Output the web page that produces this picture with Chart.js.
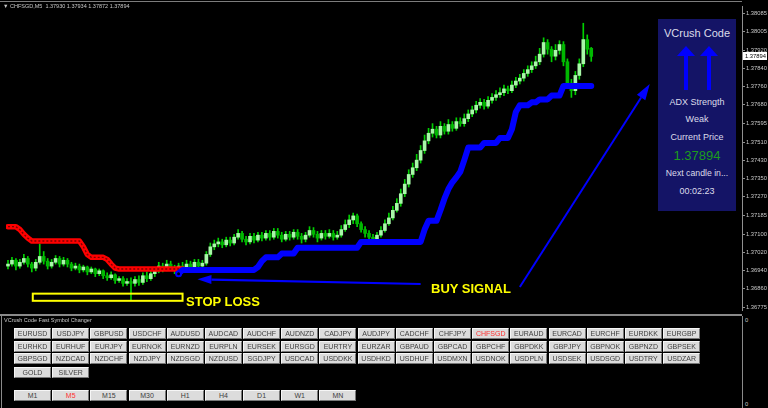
<!DOCTYPE html>
<html><head><meta charset="utf-8">
<script src="https://cdn.jsdelivr.net/npm/chart.js@4.4.1/dist/chart.umd.min.js"></script>
<style>
html,body{margin:0;padding:0;background:#000;}
#root{position:relative;width:768px;height:408px;overflow:hidden;background:#000;font-family:"Liberation Sans",Arial,sans-serif;}
#main{position:absolute;left:0;top:0;width:768px;height:316px;}
.abs{position:absolute;white-space:nowrap;}
.btn{position:absolute;box-sizing:border-box;width:37px;height:11px;background:#dcdcdc;border-top:1px solid #f6f6f6;border-left:1px solid #f6f6f6;border-right:1px solid #777;border-bottom:1px solid #777;font-size:7px;line-height:9px;text-align:center;color:#404040;}
.ptxt{position:absolute;left:0;width:78px;text-align:center;color:#dcdcea;white-space:nowrap;}
</style></head>
<body><div id="root">
<canvas id="main" width="768" height="316"></canvas>
<div class="abs" style="left:0;top:1px;width:742px;height:1px;background:#7c7c7c;"></div>
<div class="abs" style="left:3px;top:3px;font-size:5.5px;line-height:6px;color:#c8c8c8;">&#9660; CHFSGD,M5&nbsp; 1.37930 1.37934 1.37872 1.37894</div>
<div class="abs" id="stopLabel" style="left:186px;top:295px;font-size:13px;line-height:13px;font-weight:bold;color:#ffff00;">STOP LOSS</div>
<div class="abs" id="buyLabel" style="left:431px;top:282px;font-size:13px;line-height:13px;font-weight:bold;color:#ffff00;">BUY SIGNAL</div>
<div class="abs" id="panel" style="left:658px;top:19px;width:78px;height:192px;background:#141466;">
  <div class="ptxt" style="top:8px;font-size:11px;line-height:12px;">VCrush Code</div>
  <svg class="abs" style="left:0;top:0;" width="78" height="192">
    <polygon fill="#0000ff" points="28,27 37,37 30,37 30,71 26,71 26,37 19,37"/>
    <polygon fill="#0000ff" points="51,27 60,37 53,37 53,71 49,71 49,37 42,37"/>
  </svg>
  <div class="ptxt" style="top:78px;font-size:9px;line-height:10px;">ADX Strength</div>
  <div class="ptxt" style="top:95px;font-size:9px;line-height:10px;">Weak</div>
  <div class="ptxt" style="top:113px;font-size:9px;line-height:10px;">Current Price</div>
  <div class="ptxt" id="panelPrice" style="top:130px;font-size:13px;line-height:14px;color:#1c9c1c;"></div>
  <div class="ptxt" style="top:149px;font-size:8.7px;line-height:10px;">Next candle in...</div>
  <div class="ptxt" style="top:167px;font-size:9px;line-height:10px;">00:02:23</div>
</div>
<div class="abs" style="left:0;top:314px;width:742px;height:2px;background:#8a8a8a;"></div>
<div class="abs" style="left:1px;top:316px;width:1px;height:92px;background:#8a8a8a;"></div>
<div class="abs" style="left:742px;top:316px;width:1px;height:92px;background:#8a8a8a;"></div>
<div class="abs" style="left:745px;top:317px;font-size:5.8px;line-height:6px;color:#c8c8c8;">0</div>
<div class="abs" style="left:745px;top:401px;font-size:5.8px;line-height:6px;color:#c8c8c8;">0</div>
<div class="abs" style="left:4px;top:317px;font-size:5.5px;line-height:6px;color:#c8c8c8;">VCrush Code Fast Symbol Changer</div>
<div id="buttons"></div>
</div>
<script>
// ---- candle data (CHFSGD, M5) ----
const opens = [1.36958,1.36967,1.36984,1.36958,1.36975,1.36992,1.36967,1.36949,1.36975,1.37001,
1.36980,1.36958,1.36975,1.36992,1.36967,1.36984,1.36967,1.36949,1.36958,1.36941,
1.36954,1.36932,1.36945,1.36924,1.36937,1.36915,1.36906,1.36919,1.36894,1.36902,
1.36881,1.36889,1.36881,1.36898,1.36885,1.36915,1.36902,1.36924,1.36937,1.36958,
1.36945,1.36967,1.36949,1.36937,1.36958,1.36945,1.36967,1.36954,1.36975,1.36958,
1.36971,1.37010,1.37044,1.37057,1.37066,1.37053,1.37074,1.37061,1.37087,1.37104,
1.37078,1.37066,1.37091,1.37074,1.37096,1.37083,1.37104,1.37087,1.37113,1.37096,
1.37078,1.37100,1.37087,1.37109,1.37091,1.37078,1.37096,1.37117,1.37100,1.37083,
1.37104,1.37091,1.37104,1.37087,1.37096,1.37121,1.37143,1.37164,1.37182,1.37147,
1.37121,1.37104,1.37087,1.37074,1.37096,1.37117,1.37147,1.37173,1.37207,1.37238,
1.37281,1.37324,1.37367,1.37397,1.37431,1.37474,1.37517,1.37551,1.37569,1.37543,
1.37582,1.37560,1.37590,1.37573,1.37603,1.37594,1.37616,1.37637,1.37655,1.37676,
1.37689,1.37672,1.37698,1.37711,1.37723,1.37732,1.37749,1.37741,1.37766,1.37784,
1.37797,1.37818,1.37835,1.37852,1.37870,1.37904,1.37956,1.37926,1.37895,1.37921,
1.37947,1.37870,1.37775,1.37741,1.37809,1.37861,1.37969,1.37930];
const highs = [1.36984,1.36997,1.36992,1.36988,1.37010,1.37001,1.36975,1.36988,1.37057,1.37023,
1.36992,1.36988,1.37005,1.37001,1.36997,1.36992,1.36975,1.36971,1.36967,1.36962,
1.36958,1.36954,1.36949,1.36945,1.36941,1.36928,1.36932,1.36924,1.36911,1.36911,
1.36902,1.36906,1.36911,1.36915,1.36928,1.36932,1.36941,1.36949,1.36975,1.36971,
1.36984,1.36980,1.36962,1.36971,1.36975,1.36984,1.36980,1.36988,1.36988,1.36984,
1.37023,1.37061,1.37074,1.37083,1.37078,1.37087,1.37087,1.37100,1.37121,1.37113,
1.37091,1.37104,1.37104,1.37109,1.37109,1.37117,1.37117,1.37126,1.37126,1.37109,
1.37113,1.37113,1.37121,1.37121,1.37104,1.37109,1.37134,1.37130,1.37113,1.37117,
1.37117,1.37121,1.37117,1.37113,1.37139,1.37164,1.37186,1.37195,1.37190,1.37156,
1.37134,1.37117,1.37100,1.37109,1.37134,1.37164,1.37195,1.37225,1.37259,1.37302,
1.37345,1.37388,1.37418,1.37457,1.37496,1.37543,1.37573,1.37594,1.37582,1.37603,
1.37594,1.37612,1.37603,1.37620,1.37620,1.37637,1.37655,1.37672,1.37693,1.37706,
1.37702,1.37715,1.37728,1.37741,1.37754,1.37766,1.37762,1.37784,1.37801,1.37814,
1.37835,1.37852,1.37870,1.37895,1.37930,1.37977,1.37969,1.37938,1.37947,1.37964,
1.37960,1.37883,1.37792,1.37827,1.37883,1.38042,1.37990,1.37934];
const lows = [1.36945,1.36958,1.36941,1.36949,1.36967,1.36954,1.36932,1.36937,1.36967,1.36967,
1.36945,1.36949,1.36967,1.36954,1.36958,1.36954,1.36937,1.36941,1.36928,1.36932,
1.36919,1.36924,1.36911,1.36915,1.36902,1.36894,1.36898,1.36881,1.36885,1.36868,
1.36872,1.36808,1.36868,1.36872,1.36876,1.36889,1.36894,1.36911,1.36928,1.36932,
1.36937,1.36941,1.36924,1.36928,1.36932,1.36937,1.36941,1.36945,1.36949,1.36949,
1.36962,1.37001,1.37031,1.37044,1.37040,1.37044,1.37048,1.37053,1.37078,1.37066,
1.37053,1.37057,1.37061,1.37066,1.37070,1.37074,1.37074,1.37078,1.37083,1.37066,
1.37070,1.37074,1.37078,1.37078,1.37061,1.37066,1.37087,1.37087,1.37066,1.37074,
1.37078,1.37083,1.37074,1.37078,1.37087,1.37113,1.37130,1.37147,1.37134,1.37109,
1.37087,1.37070,1.37057,1.37061,1.37087,1.37109,1.37139,1.37164,1.37199,1.37225,
1.37268,1.37311,1.37354,1.37384,1.37418,1.37461,1.37504,1.37534,1.37530,1.37530,
1.37547,1.37547,1.37560,1.37564,1.37582,1.37582,1.37603,1.37625,1.37642,1.37663,
1.37659,1.37663,1.37685,1.37698,1.37711,1.37719,1.37728,1.37732,1.37754,1.37771,
1.37784,1.37805,1.37822,1.37840,1.37857,1.37891,1.37904,1.37870,1.37878,1.37904,
1.37852,1.37758,1.37711,1.37723,1.37792,1.37848,1.37904,1.37872];
const closes = [1.36967,1.36984,1.36958,1.36975,1.36992,1.36967,1.36949,1.36975,1.37001,1.36980,
1.36958,1.36975,1.36992,1.36967,1.36984,1.36967,1.36949,1.36958,1.36941,1.36954,
1.36932,1.36945,1.36924,1.36937,1.36915,1.36906,1.36919,1.36894,1.36902,1.36881,
1.36889,1.36881,1.36898,1.36885,1.36915,1.36902,1.36924,1.36937,1.36958,1.36945,
1.36967,1.36949,1.36937,1.36958,1.36945,1.36967,1.36954,1.36975,1.36958,1.36971,
1.37010,1.37044,1.37057,1.37066,1.37053,1.37074,1.37061,1.37087,1.37104,1.37078,
1.37066,1.37091,1.37074,1.37096,1.37083,1.37104,1.37087,1.37113,1.37096,1.37078,
1.37100,1.37087,1.37109,1.37091,1.37078,1.37096,1.37117,1.37100,1.37083,1.37104,
1.37091,1.37104,1.37087,1.37096,1.37121,1.37143,1.37164,1.37182,1.37147,1.37121,
1.37104,1.37087,1.37074,1.37096,1.37117,1.37147,1.37173,1.37207,1.37238,1.37281,
1.37324,1.37367,1.37397,1.37431,1.37474,1.37517,1.37551,1.37569,1.37543,1.37582,
1.37560,1.37590,1.37573,1.37603,1.37594,1.37616,1.37637,1.37655,1.37676,1.37689,
1.37672,1.37698,1.37711,1.37723,1.37732,1.37749,1.37741,1.37766,1.37784,1.37797,
1.37818,1.37835,1.37852,1.37870,1.37904,1.37956,1.37926,1.37895,1.37921,1.37947,
1.37870,1.37775,1.37741,1.37809,1.37861,1.37969,1.37926,1.37894];

// ---- trend line (red = down trend from bar 0, blue = up trend from bar 43) ----
const trendDown = [1.37134,1.37134,1.37134,1.37121,1.37100,1.37083,
1.37070,1.37070,1.37070,1.37070,1.37070,1.37070,1.37070,1.37070,1.37070,1.37070,1.37070,1.37070,1.37070,
1.37044,1.37010,1.36997,1.36997,1.36997,1.36997,1.36988,1.36967,1.36949,
1.36945,1.36945,1.36945,1.36945,1.36945,1.36945,1.36945,1.36945,1.36945,1.36945,1.36945,1.36945,1.36945,1.36945,1.36945,1.36945,1.36945];
const trendUpStart = 43;
const trendUp = [1.36924,
1.36941,1.36941,1.36941,1.36941,1.36941,1.36941,1.36941,1.36941,1.36941,1.36941,1.36941,1.36941,1.36941,1.36941,1.36941,1.36941,1.36941,1.36941,1.36941,
1.36954,1.36980,1.36997,1.36997,1.36997,1.36997,1.37014,1.37014,1.37014,1.37014,
1.37040,1.37040,1.37040,1.37040,1.37040,1.37040,1.37040,1.37040,1.37040,1.37040,1.37040,1.37040,1.37040,1.37040,1.37040,1.37040,
1.37066,1.37066,1.37066,1.37066,1.37066,1.37066,1.37066,1.37066,1.37066,1.37066,1.37066,1.37066,1.37066,1.37066,1.37066,1.37066,
1.37121,1.37160,1.37160,1.37160,1.37207,1.37259,1.37302,1.37332,1.37354,1.37379,1.37431,
1.37487,1.37487,1.37487,1.37487,1.37508,1.37508,1.37508,1.37508,1.37530,1.37530,1.37530,
1.37569,1.37646,1.37676,1.37676,1.37676,1.37689,1.37689,1.37702,1.37702,1.37702,1.37719,1.37719,1.37719,
1.37762,1.37762,1.37762,1.37762,1.37762,1.37762,1.37762,1.37762];

// ---- axis tick labels ----
const priceTicks = [1.38085,1.38005,1.37920,1.37840,1.37760,1.37680,1.37595,1.37510,1.37430,1.37350,1.37270,1.37185,1.37100,1.37020,1.36940,1.36860,1.36775];

// ---- annotations (bar index / price) ----
const stopLossZone = {fromBar: 6.25, toBar: 44, upper: 1.36835, lower: 1.36803};
const arrowBuy = {fromBar: 104, fromPrice: 1.36878, toBar: 47.75, toPrice: 1.36899};
const arrowPanel = {fromBar: 129, fromPrice: 1.36865, toBar: 161.75, toPrice: 1.37771};

// ---- symbol changer ----
const symbolsRow1 = ['EURUSD','USDJPY','GBPUSD','USDCHF','AUDUSD','AUDCAD','AUDCHF','AUDNZD','CADJPY','AUDJPY','CADCHF','CHFJPY','CHFSGD','EURAUD','EURCAD','EURCHF','EURDKK','EURGBP'];
const symbolsRow2 = ['EURHKD','EURHUF','EURJPY','EURNOK','EURNZD','EURPLN','EURSEK','EURSGD','EURTRY','EURZAR','GBPAUD','GBPCAD','GBPCHF','GBPDKK','GBPJPY','GBPNOK','GBPNZD','GBPSEK'];
const symbolsRow3 = ['GBPSGD','NZDCAD','NZDCHF','NZDJPY','NZDSGD','NZDUSD','SGDJPY','USDCAD','USDDKK','USDHKD','USDHUF','USDMXN','USDNOK','USDPLN','USDSEK','USDSGD','USDTRY','USDZAR'];
const symbolsRow4 = ['GOLD','SILVER'];
const timeframes = ['M1','M5','M15','M30','H1','H4','D1','W1','MN'];
const activeSymbol = 'CHFSGD';
const activeTimeframe = 'M5';

// build buttons
(function(){
  const host = document.getElementById('buttons');
  const rows = [[symbolsRow1,328],[symbolsRow2,340.5],[symbolsRow3,353],[symbolsRow4,366.5],[timeframes,390]];
  rows.forEach(([list, top]) => {
    list.forEach((name, k) => {
      const b = document.createElement('div');
      b.className = 'btn';
      b.style.left = (14 + 38.18 * k) + 'px';
      b.style.top = top + 'px';
      b.textContent = name;
      if (name === activeSymbol || name === activeTimeframe) b.style.color = '#ff3030';
      host.appendChild(b);
    });
  });
})();

const lastClose = closes[closes.length - 1];
document.getElementById('panelPrice').textContent = lastClose.toFixed(5);

const idx = closes.map((_, i) => i);
const wickData = idx.map(i => ({x: i, y: [lows[i], highs[i]]}));
const bodyData = idx.map(i => ({x: i, y: [opens[i], closes[i]]}));
const bodyColors = idx.map(i => closes[i] >= opens[i] ? '#a8f8a8' : '#00b800');
const downData = trendDown.map((v, i) => ({x: i, y: v}));
const upData = trendUp.map((v, k) => ({x: trendUpStart + k, y: v}));

function drawArrow(ctx, x1, y1, x2, y2, head, half, width) {
  const ang = Math.atan2(y2 - y1, x2 - x1);
  const bx = x2 - head * Math.cos(ang), by = y2 - head * Math.sin(ang);
  ctx.strokeStyle = '#0000ff'; ctx.fillStyle = '#0000ff'; ctx.lineWidth = width;
  ctx.beginPath(); ctx.moveTo(x1, y1); ctx.lineTo(bx, by); ctx.stroke();
  ctx.beginPath();
  ctx.moveTo(x2, y2);
  ctx.lineTo(bx + half * Math.sin(ang), by - half * Math.cos(ang));
  ctx.lineTo(bx - half * Math.sin(ang), by + half * Math.cos(ang));
  ctx.closePath(); ctx.fill();
}

const annotationPlugin = {
  id: 'mtAnnotations',
  afterDatasetsDraw(chart) {
    const {ctx, chartArea} = chart;
    const xs = chart.scales.x, ys = chart.scales.y;
    ctx.save();
    const x0 = xs.getPixelForValue(stopLossZone.fromBar), x1 = xs.getPixelForValue(stopLossZone.toBar);
    const y0 = ys.getPixelForValue(stopLossZone.upper), y1 = ys.getPixelForValue(stopLossZone.lower);
    ctx.strokeStyle = '#ffff00'; ctx.lineWidth = 2;
    ctx.strokeRect(x0, y0, x1 - x0, y1 - y0);
    drawArrow(ctx, xs.getPixelForValue(arrowBuy.fromBar), ys.getPixelForValue(arrowBuy.fromPrice),
      xs.getPixelForValue(arrowBuy.toBar), ys.getPixelForValue(arrowBuy.toPrice), 14, 4.5, 2.2);
    drawArrow(ctx, xs.getPixelForValue(arrowPanel.fromBar), ys.getPixelForValue(arrowPanel.fromPrice),
      xs.getPixelForValue(arrowPanel.toBar), ys.getPixelForValue(arrowPanel.toPrice), 16, 5, 2);
    const py = ys.getPixelForValue(lastClose);
    ctx.fillStyle = '#ffffff';
    ctx.fillRect(chartArea.right + 1, Math.round(py) - 4, 24, 8);
    ctx.fillStyle = '#000000';
    ctx.font = '5.8px "Liberation Sans"';
    ctx.textBaseline = 'middle'; ctx.textAlign = 'left';
    ctx.fillText(lastClose.toFixed(5), chartArea.right + 3, Math.round(py));
    ctx.restore();
  }
};

new Chart(document.getElementById('main'), {
  type: 'bar',
  data: {
    datasets: [
      {type: 'line', data: upData, borderColor: '#0000ff', borderWidth: 6, tension: 0,
       borderJoinStyle: 'round', borderCapStyle: 'round',
       pointRadius: c => c.dataIndex === 0 ? 2.5 : 0, pointBorderColor: '#0000ff',
       pointBackgroundColor: '#000000', pointBorderWidth: 2, order: 0},
      {type: 'line', data: downData, borderColor: '#7a0000', borderWidth: 1.4, borderDash: [2, 2],
       pointRadius: 0, tension: 0, order: 0},
      {type: 'line', data: downData, borderColor: '#ff0000', borderWidth: 5.5, pointRadius: 0, tension: 0,
       borderJoinStyle: 'round', borderCapStyle: 'round', order: 1},
      {data: bodyData, backgroundColor: bodyColors, barThickness: 3, grouped: false, minBarLength: 1, order: 2},
      {data: wickData, backgroundColor: '#00d000', barThickness: 1, grouped: false, order: 3}
    ]
  },
  options: {
    responsive: false, animation: false, events: [],
    layout: {padding: 0},
    plugins: {legend: {display: false}, tooltip: {enabled: false}},
    scales: {
      x: {type: 'linear', min: -0.5, max: 185, display: false, offset: false},
      y: {type: 'linear', position: 'right', min: 1.36762, max: 1.38119,
        afterBuildTicks: s => { s.ticks = priceTicks.map(v => ({value: v})); },
        afterFit: s => { s.width = 26; s.paddingTop = 0; s.paddingBottom = 0; },
        grid: {drawOnChartArea: false, drawTicks: true, tickLength: 3, color: '#909090'},
        border: {display: true, color: '#909090', width: 1},
        ticks: {color: '#c8c8c8', font: {family: 'Liberation Sans', size: 5.8}, padding: 1,
          autoSkip: false, callback: v => Number(v).toFixed(5)}
      }
    }
  },
  plugins: [annotationPlugin]
});
</script>
</body></html>
